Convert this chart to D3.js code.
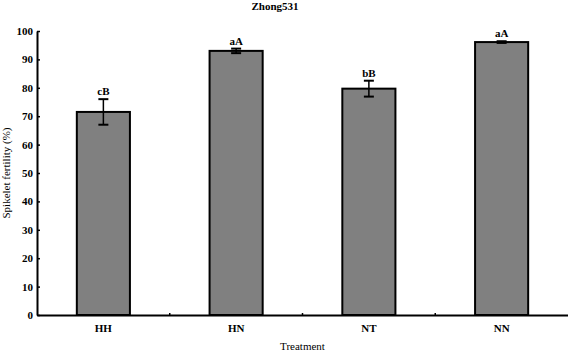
<!DOCTYPE html>
<html>
<head>
<meta charset="utf-8">
<script src="https://cdn.jsdelivr.net/npm/d3@7"></script>
<style>
  body { margin: 0; background: #fff; }
  svg text { fill: #000; }
</style>
</head>
<body>
<svg id="chart" width="568" height="353"></svg>
<script>
const treatments = ["HH", "HN", "NT", "NN"];
const fertility = [71.5, 93.0, 79.7, 96.1];
const errors = [4.5, 0.8, 2.8, 0.3];
const letters = ["cB", "aA", "bB", "aA"];
const yTicks = [0, 10, 20, 30, 40, 50, 60, 70, 80, 90, 100];

const FONT = "'Liberation Serif', 'Times New Roman', Times, serif";

const svg = d3.select("#chart");
const margin = { top: 31, right: 0, bottom: 38, left: 37 };
const W = 568, H = 353;
const w = W - margin.left - margin.right;
const h = H - margin.top - margin.bottom;

const g = svg.append("g").attr("transform", `translate(${margin.left},${margin.top})`);

const x = d3.scaleBand().domain(treatments).range([0, w]).paddingInner(0.6).paddingOuter(0.3);
const y = d3.scaleLinear().domain([0, 100]).range([h, 0]);

// bars
g.selectAll("rect.bar")
  .data(treatments)
  .enter()
  .append("rect")
  .attr("class", "bar")
  .attr("x", (d) => x(d))
  .attr("y", (d, i) => y(fertility[i]))
  .attr("width", x.bandwidth())
  .attr("height", (d, i) => h - y(fertility[i]))
  .attr("fill", "#808080")
  .attr("stroke", "#000")
  .attr("stroke-width", 2);

// error bars
const eb = g.selectAll("g.err").data(treatments).enter().append("g").attr("class", "err");
const cap = 8;
eb.append("line")
  .attr("x1", (d) => x(d) + x.bandwidth() / 2)
  .attr("x2", (d) => x(d) + x.bandwidth() / 2)
  .attr("y1", (d, i) => y(fertility[i] + errors[i]))
  .attr("y2", (d, i) => y(fertility[i] - errors[i]))
  .attr("stroke", "#000").attr("stroke-width", 1.5);
[1, -1].forEach((s) => {
  eb.append("line")
    .attr("x1", (d) => x(d) + x.bandwidth() / 2 - cap / 2 - 1)
    .attr("x2", (d) => x(d) + x.bandwidth() / 2 + cap / 2 + 1)
    .attr("y1", (d, i) => y(fertility[i] + s * errors[i]))
    .attr("y2", (d, i) => y(fertility[i] + s * errors[i]))
    .attr("stroke", "#000").attr("stroke-width", 2);
});

// significance letters
g.selectAll("text.sig")
  .data(treatments)
  .enter()
  .append("text")
  .attr("class", "sig")
  .attr("x", (d) => x(d) + x.bandwidth() / 2)
  .attr("y", (d, i) => y(fertility[i] + errors[i]) - 4)
  .attr("text-anchor", "middle")
  .attr("font-family", FONT)
  .attr("font-size", 11)
  .attr("font-weight", "bold")
  .text((d, i) => letters[i]);

// y axis
const yAxis = g.append("g")
  .call(d3.axisLeft(y).tickValues(yTicks).tickSize(-3).tickSizeOuter(0).tickPadding(4));
yAxis.attr("font-family", FONT).attr("font-size", 11).attr("font-weight", "bold");
yAxis.select(".domain").attr("stroke-width", 2);
yAxis.selectAll(".tick line").attr("stroke-width", 1.5);

// x axis: boundary ticks between groups
const xAxis = g.append("g").attr("transform", `translate(0,${h})`)
  .call(d3.axisBottom(x).tickSize(0).tickSizeOuter(0).tickPadding(9));
xAxis.attr("font-family", FONT).attr("font-size", 11).attr("font-weight", "bold");
xAxis.select(".domain").attr("stroke-width", 2);
const step = x.step();
xAxis.selectAll("line.sep")
  .data(treatments.slice(1))
  .enter()
  .append("line")
  .attr("class", "sep")
  .attr("x1", (d) => x(d) - (step - x.bandwidth()) / 2)
  .attr("x2", (d) => x(d) - (step - x.bandwidth()) / 2)
  .attr("y1", 0).attr("y2", -2)
  .attr("stroke", "#000").attr("stroke-width", 1.5);

// titles
svg.append("text")
  .attr("x", 275).attr("y", 10)
  .attr("text-anchor", "middle")
  .attr("font-family", FONT)
  .attr("font-size", 11)
  .attr("font-weight", "bold")
  .text("Zhong531");

svg.append("text")
  .attr("x", margin.left + w / 2).attr("y", 350)
  .attr("text-anchor", "middle")
  .attr("font-family", FONT)
  .attr("font-size", 11)
  .text("Treatment");

svg.append("text")
  .attr("transform", `translate(10,173) rotate(-90)`)
  .attr("text-anchor", "middle")
  .attr("font-family", FONT)
  .attr("font-size", 11)
  .text("Spikelet fertility (%)");
</script>
</body>
</html>
